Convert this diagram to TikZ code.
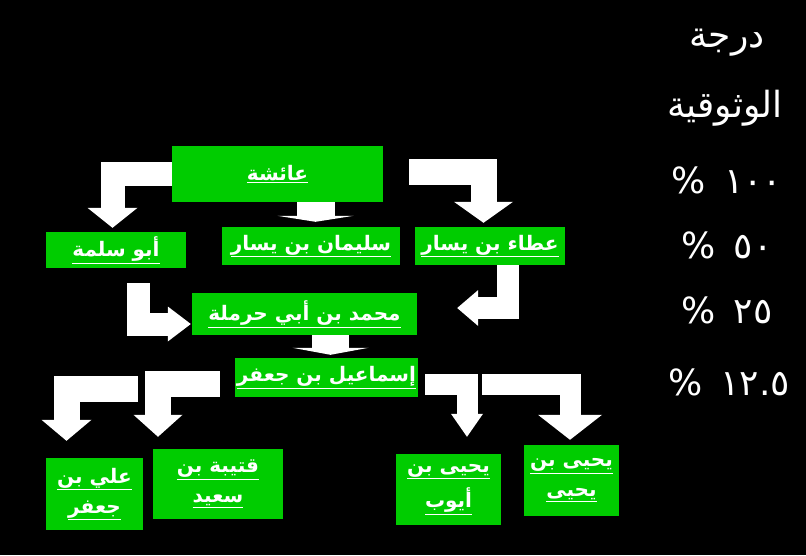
\documentclass[tikz,border=0pt]{standalone}
\usepackage{fontspec}
\usetikzlibrary{calc,arrows.meta}

\TeXXeTstate=1
\newfontfamily\arabicfont[Script=Arabic]{DejaVu Sans}
\definecolor{boxgreen}{RGB}{0,204,0}
\newcommand{\nm}[1]{\underline{\hbox{\beginR #1\endR}}}

\begin{document}
\begin{tikzpicture}[
        x=1pt, y=-1pt,
        every node/.style={text=white, font=\arabicfont\bfseries\fontsize{20}{22}\selectfont},
        narrator/.style={fill=boxgreen, inner sep=0pt, align=center},
        flow/.style args={#1/#2/#3}{draw=white, line width=#1, line join=miter,
            -{Triangle[width=#2, length=#3, line width=0pt]}},
        note/.style={font=\arabicfont\fontsize{36}{38}\selectfont},
    ]

    % Background.
    \fill[black] (0,0) rectangle (806,555);
    \useasboundingbox (0,0) rectangle (806,555);

    % Narrators.
    \node[narrator, minimum width=211pt, minimum height=56pt] (aisha) at (277.5,174) {\nm{عائشة}};
    \node[narrator, minimum width=140pt, minimum height=36pt] (abusalama) at (116,250) {\nm{أبو سلمة}};
    \node[narrator, minimum width=178pt, minimum height=38pt] (sulayman) at (311,246) {\nm{سليمان بن يسار}};
    \node[narrator, minimum width=150pt, minimum height=38pt] (ata) at (490,246) {\nm{عطاء بن يسار}};
    \node[narrator, minimum width=225pt, minimum height=42pt] (muhammad) at (304.5,314) {\nm{محمد بن أبي حرملة}};
    \node[narrator, minimum width=183pt, minimum height=39pt] (ismail) at (326.5,377.5) {\nm{إسماعيل بن جعفر}};
    \node[narrator, minimum width=97pt, minimum height=72pt] (ali) at (94.5,494) {\nm{علي بن}\\[8pt]\nm{جعفر}};
    \node[narrator, minimum width=130pt, minimum height=70pt] (qutayba) at (218,484) {\nm{قتيبة بن}\\[8pt]\nm{سعيد}};
    \node[narrator, minimum width=105pt, minimum height=71pt] (yahyaa) at (448.5,489.5) {\nm{يحيى بن}\\[8pt]\nm{أيوب}};
    \node[narrator, minimum width=95pt, minimum height=71pt] (yahyay) at (571.5,480.5) {\nm{يحيى بن}\\[8pt]\nm{يحيى}};

    % Chains.
    \draw[flow=24pt/50pt/20pt] (aisha.west) -| ($(abusalama.north)+(-3.5,-4)$);
    \draw[flow=38pt/76pt/6pt] ($(aisha.south)+(38,0)$) -- ($(sulayman.north)+(4.5,-5)$);
    \draw[flow=26pt/59pt/21pt] ($(aisha.east)+(26,-2)$) -| ($(ata.north)+(-6.5,-4)$);
    \draw[flow=22pt/36pt/21pt] ($(ata.south)+(18,0)$) |- ($(muhammad.east)+(40,-6)$);
    \coordinate (lowleft) at ($(abusalama.south)+(22.5,15)$);
    \draw[flow=23pt/35pt/23pt] (lowleft) |- ($(muhammad.west)+(-1,10)$);
    \draw[flow=37pt/76pt/7pt] ($(muhammad.south)+(26,0)$) -- ($(ismail.north)+(4,-3)$);
    \draw[flow=26pt/50pt/21pt] ($(ismail.west)+(-97,11)$) -| ($(ali.north)+(-28,-17)$);
    \draw[flow=26pt/49pt/22pt] ($(ismail.west)+(-15,6.5)$) -| ($(qutayba.north)+(-60,-12)$);
    \draw[flow=21pt/32pt/23pt] ($(ismail.east)+(7,6.5)$) -| ($(yahyaa.north)+(18.5,-17)$);
    \draw[flow=21pt/64pt/25pt] ($(ismail.east)+(64,6.5)$) -| ($(yahyay.north)+(-1.5,-5)$);

    % Reliability.
    \node[note] (title1) at (727,43) {\beginR درجة\endR};
    \node[note] (title2) at (725,108) {\beginR الوثوقية\endR};
    \node[note] (p100) at (727,180) {\%\hspace{0.5em}١٠٠};
    \node[note] (p50) at (727,245) {\%\hspace{0.5em}٥٠};
    \node[note] (p25) at (727,310) {\%\hspace{0.5em}٢٥};
    \node[note] (p12) at (729,382) {\%\hspace{0.5em}١٢.٥};
\end{tikzpicture}
\end{document}
